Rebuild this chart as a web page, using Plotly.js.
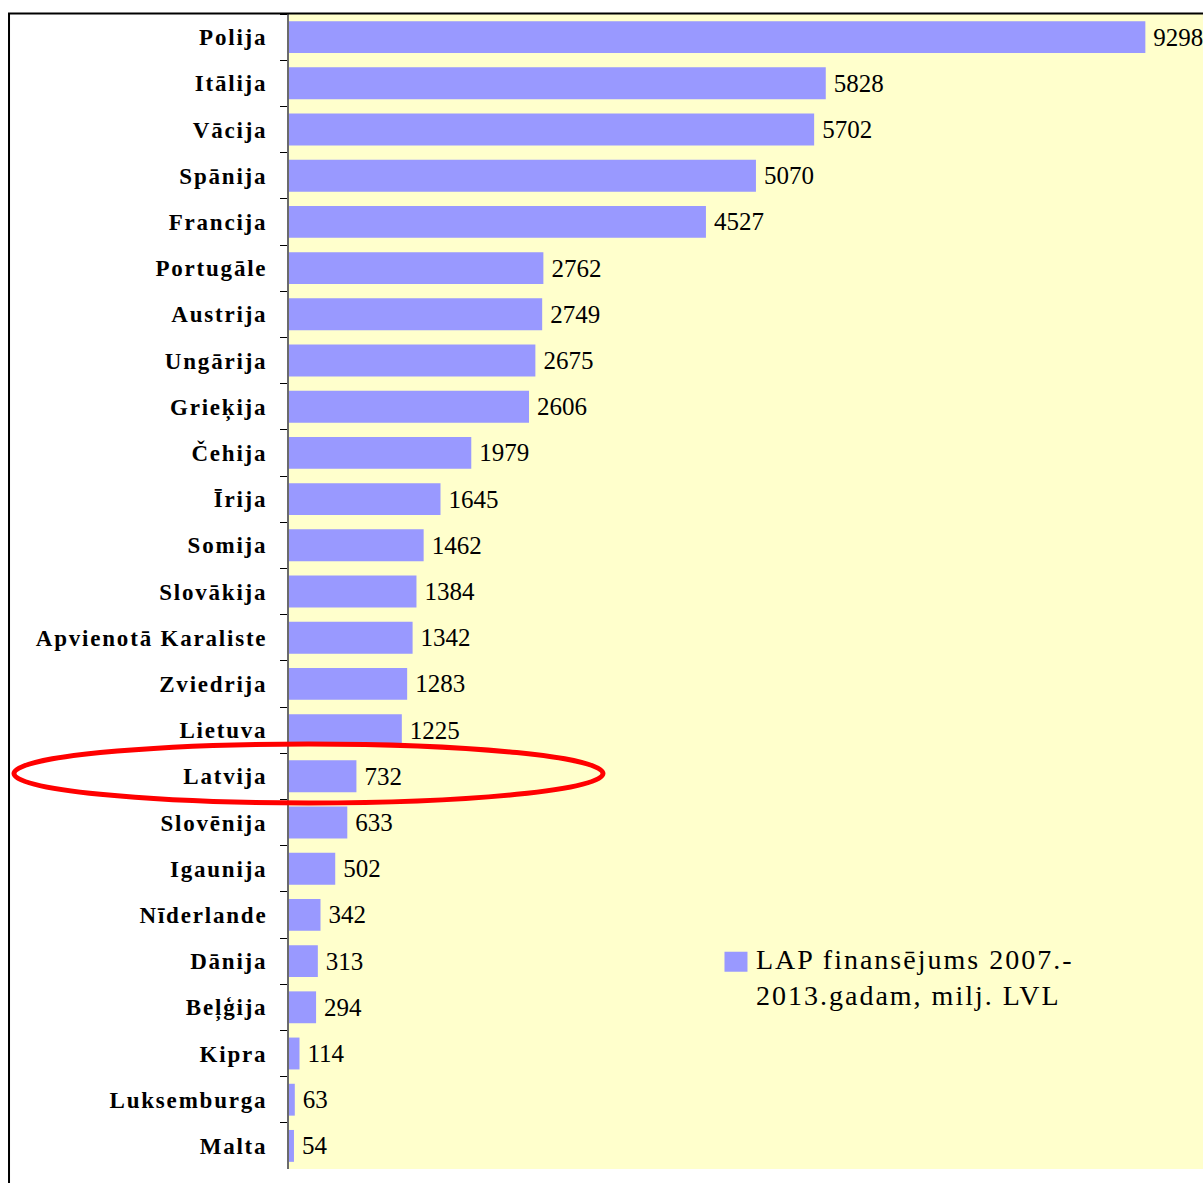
<!DOCTYPE html>
<html>
<head>
<meta charset="utf-8">
<script src="https://cdn.plot.ly/plotly-3.0.1.min.js"></script>
<style>
  html, body { margin: 0; padding: 0; background: #ffffff; overflow: hidden; }
  #chart { width: 1215px; height: 1183px; }
  .yaxislayer-above .ytick text { letter-spacing: 1.8px; }
  .legendtext { letter-spacing: 2px; }
</style>
</head>
<body>
<div id="chart"></div>
<script>
// Categories (top to bottom) and values, million LVL
const countries = [
  "Polija", "Itālija", "Vācija", "Spānija", "Francija", "Portugāle", "Austrija",
  "Ungārija", "Grieķija", "Čehija", "Īrija", "Somija", "Slovākija",
  "Apvienotā Karaliste", "Zviedrija", "Lietuva", "Latvija", "Slovēnija",
  "Igaunija", "Nīderlande", "Dānija", "Beļģija", "Kipra", "Luksemburga", "Malta"
];
const funding = [
  9298, 5828, 5702, 5070, 4527, 2762, 2749,
  2675, 2606, 1979, 1645, 1462, 1384,
  1342, 1283, 1225, 732, 633,
  502, 342, 313, 294, 114, 63, 54
];
const seriesName = "LAP finansējums 2007.-<br>2013.gadam, milj. LVL";
const labels = funding.map(v => String(v));

const trace = {
  type: "bar",
  orientation: "h",
  y: countries,
  x: funding,
  name: seriesName,
  text: labels,
  texttemplate: "\u2009%{text}",
  textposition: "outside",
  cliponaxis: false,
  textfont: { family: "Liberation Serif", size: 25, color: "#000000" },
  marker: { color: "#9999FF", line: { width: 0 } },
  showlegend: true,
  hoverinfo: "skip"
};

const layout = {
  width: 1215,
  height: 1183,
  margin: { l: 289, r: 5, t: 14, b: 14, pad: 0 },
  paper_bgcolor: "#FFFFFF",
  plot_bgcolor: "#FFFFCC",
  bargap: 0.31,
  showlegend: true,
  legend: {
    x: 0.4636, xanchor: "left",
    y: 0.2043, yanchor: "top",
    bgcolor: "rgba(0,0,0,0)",
    borderwidth: 0,
    valign: "top",
    font: { family: "Liberation Serif", size: 28, color: "#000000" }
  },
  xaxis: {
    range: [0, 10000],
    visible: false,
    fixedrange: true
  },
  yaxis: {
    type: "category",
    autorange: "reversed",
    showgrid: false,
    zeroline: false,
    showline: true,
    linecolor: "#6b6b6b",
    linewidth: 2,
    ticks: "outside",
    tickson: "boundaries",
    ticklen: 7,
    tickwidth: 1,
    tickcolor: "#000000",
    ticklabelstandoff: 15,
    tickfont: { family: "Liberation Serif", size: 23, weight: "bold", color: "#000000" },
    fixedrange: true
  },
  shapes: [
    {
      type: "rect", xref: "paper", yref: "paper",
      x0: -0.304, x1: 1.2, y0: -0.2, y1: 1.0004,
      line: { color: "#000000", width: 2 },
      fillcolor: "rgba(0,0,0,0)",
      layer: "above"
    },
    {
      type: "circle", xref: "paper", yref: "paper",
      x0: -0.2986, x1: 0.3409, y0: 0.3169, y1: 0.3680,
      line: { color: "#FF0000", width: 5 },
      fillcolor: "rgba(0,0,0,0)",
      layer: "above"
    }
  ]
};

Plotly.newPlot("chart", [trace], layout, { displayModeBar: false, staticPlot: true }).then(function (gd) {
  // enlarge the legend swatch to match the reference
  document.querySelectorAll(".legendpoints path").forEach(function (p) {
    p.setAttribute("d", "M11.5,14H-11.5V-6H11.5Z");
  });
});
</script>
</body>
</html>
